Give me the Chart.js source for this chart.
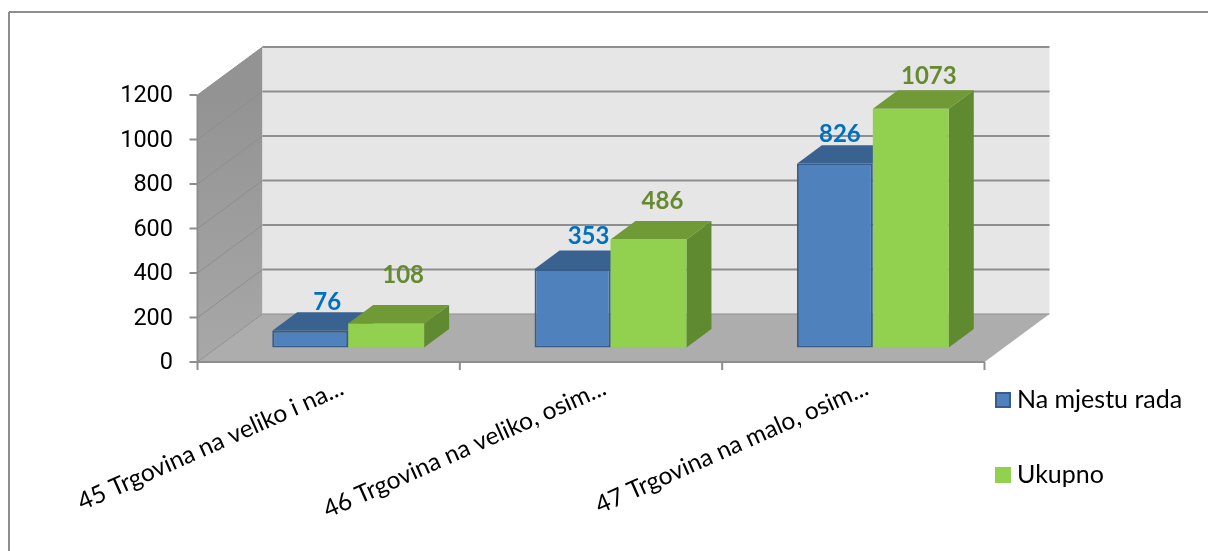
<!DOCTYPE html>
<html>
<head>
<meta charset="utf-8">
<title>Trgovina</title>
<script src="https://cdn.jsdelivr.net/npm/chart.js@4"></script>
<style>
  html, body { margin: 0; padding: 0; background: #fff; }
  #wrap { width: 1208px; height: 551px; position: relative; }
</style>
</head>
<body>
<div id="wrap"><canvas id="barChart"></canvas></div>
<script>
const categories = ['45 Trgovina na veliko i na...', '46 Trgovina na veliko, osim...', '47 Trgovina na malo, osim...'];
const naMjestuRada = [76, 353, 826];
const ukupno = [108, 486, 1073];
const seriesNames = ['Na mjestu rada', 'Ukupno'];
const axisTicks = [0, 200, 400, 600, 800, 1000, 1200];

const font = 'Lato';
const gridColor = '#8e8e8e';
// how far the walls and the bars sit behind the front of the plot
const wallDepth = { x: 65, y: -48 };
const barDepth = { x: 25, y: -18.5 };
const axisShift = 19.5; // the axis line sits left of the bar scale
const barLift = 65; // floor under the bars, in axis units
const labelNudge = [[[17, -28], [17, -48]], [[16, -33], [14, -38]], [[5, -29], [18, -33]]];

const faceColors = [
  { top: '#3a6291', side: '#2f5480' },
  { top: '#6f9a36', side: '#5f8a2f' }
];
const labelColors = ['#0070c0', '#668a30'];
const legendRows = [400, 475];

function poly(ctx, pts, fill) {
  ctx.beginPath();
  pts.forEach((p, i) => i ? ctx.lineTo(p[0], p[1]) : ctx.moveTo(p[0], p[1]));
  ctx.closePath();
  ctx.fillStyle = fill;
  ctx.fill();
}

function line(ctx, x1, y1, x2, y2, w) {
  ctx.beginPath();
  ctx.moveTo(x1, y1);
  ctx.lineTo(x2, y2);
  ctx.lineWidth = w;
  ctx.strokeStyle = gridColor;
  ctx.stroke();
}

// frame, walls and floor of the 3d box
const boxPlugin = {
  id: 'box',
  beforeDatasetsDraw(chart) {
    const ctx = chart.ctx;
    const area = chart.chartArea;
    const y = chart.scales.y;
    const left = area.left - axisShift;
    const right = area.right - axisShift;
    const top = y.getPixelForValue(1200);
    const bottom = y.getPixelForValue(0);
    const dx = wallDepth.x, dy = wallDepth.y;

    ctx.save();
    // the frame is cut off by the picture on the right and at the bottom
    line(ctx, 9, 12, 1208, 12, 2);
    line(ctx, 9, 12, 9, 551, 2);

    const wall = ctx.createLinearGradient(0, top, 0, bottom);
    wall.addColorStop(0, '#939393');
    wall.addColorStop(1, '#a8a8a8');
    poly(ctx, [[left, top], [left + dx, top + dy], [left + dx, bottom + dy], [left, bottom]], wall);
    poly(ctx, [[left + dx, top + dy], [right + dx, top + dy], [right + dx, bottom + dy], [left + dx, bottom + dy]], '#e6e6e6');
    poly(ctx, [[left, bottom], [left + dx, bottom + dy], [right + dx, bottom + dy], [right, bottom]], '#adadad');

    axisTicks.forEach(v => {
      const py = y.getPixelForValue(v);
      line(ctx, left, py, left + dx, py + dy, 1);
      line(ctx, left + dx, py + dy, right + dx, py + dy, v === 0 ? 1 : 2);
      line(ctx, left - 8, py, left, py, 2);
    });
    line(ctx, left, top, left, bottom, 2);
    line(ctx, left, bottom, right, bottom, 2);
    const step = (right - left) / categories.length;
    for (let i = 0; i <= categories.length; i++) {
      line(ctx, left + step * i, bottom, left + step * i, bottom + 8, 2);
    }

    // bar sides and tops
    chart.data.datasets.forEach((ds, d) => {
      chart.getDatasetMeta(d).data.forEach(bar => {
        const half = bar.width / 2;
        const l = bar.x - half, r = bar.x + half;
        poly(ctx, [[r, bar.y], [r + barDepth.x, bar.y + barDepth.y], [r + barDepth.x, bar.base + barDepth.y], [r, bar.base]], faceColors[d].side);
        poly(ctx, [[l, bar.y], [l + barDepth.x, bar.y + barDepth.y], [r + barDepth.x, bar.y + barDepth.y], [r, bar.y]], faceColors[d].top);
      });
    });
    ctx.restore();
  },
  afterDatasetsDraw(chart) {
    const ctx = chart.ctx;
    ctx.save();
    ctx.font = 'bold 24px ' + font;
    ctx.textAlign = 'center';
    ctx.textBaseline = 'middle';
    chart.data.datasets.forEach((ds, d) => {
      chart.getDatasetMeta(d).data.forEach((bar, i) => {
        ctx.fillStyle = labelColors[d];
        ctx.fillText(ds.data[i], bar.x + labelNudge[i][d][0], bar.y + labelNudge[i][d][1]);
      });
    });

    // legend
    ctx.textAlign = 'left';
    ctx.font = '25px ' + font;
    chart.data.datasets.forEach((ds, d) => {
      const cy = legendRows[d];
      ctx.fillStyle = ds.backgroundColor;
      ctx.fillRect(995, cy - 8, 16, 16);
      if (ds.borderWidth) {
        ctx.strokeStyle = ds.borderColor;
        ctx.lineWidth = ds.borderWidth;
        ctx.strokeRect(996, cy - 7, 14, 14);
      }
      ctx.fillStyle = '#000';
      ctx.fillText(ds.label, 1017, cy);
    });
    ctx.restore();
  }
};

const chart = new Chart(document.getElementById('barChart'), {
  type: 'bar',
  data: {
    labels: categories,
    datasets: [
      { label: seriesNames[0], data: naMjestuRada, backgroundColor: '#4f81bd', borderColor: '#385d8a', borderWidth: 2, borderSkipped: false, yAxisID: 'yBars' },
      { label: seriesNames[1], data: ukupno, backgroundColor: '#92d050', borderColor: '#92d050', borderWidth: 0, yAxisID: 'yBars' }
    ]
  },
  options: {
    responsive: true,
    maintainAspectRatio: false,
    animation: false,
    categoryPercentage: 0.579,
    barPercentage: 1,
    layout: { padding: { top: 95, right: 204, left: 0, bottom: 0 } },
    scales: {
      x: {
        grid: { display: false },
        border: { display: false },
        ticks: {
          font: { family: font, size: 24.5 },
          color: '#000',
          autoSkip: false,
          minRotation: 24,
          maxRotation: 24,
          padding: 3,
          labelOffset: -6
        },
        afterFit(s) { s.height = 189; }
      },
      y: {
        min: 0,
        max: 1200,
        grid: { display: false },
        border: { display: false },
        ticks: {
          font: { family: 'Roboto', size: 23.5 },
          color: '#000',
          padding: 36,
          stepSize: 200,
          labelOffset: 1.5,
          callback: v => String(v)
        },
        afterFit(s) { s.width = 217; }
      },
      yBars: {
        display: false,
        min: -barLift,
        max: 1200 - barLift
      }
    },
    plugins: {
      tooltip: { enabled: false },
      legend: { display: false }
    }
  },
  plugins: [boxPlugin]
});
</script>
</body>
</html>
